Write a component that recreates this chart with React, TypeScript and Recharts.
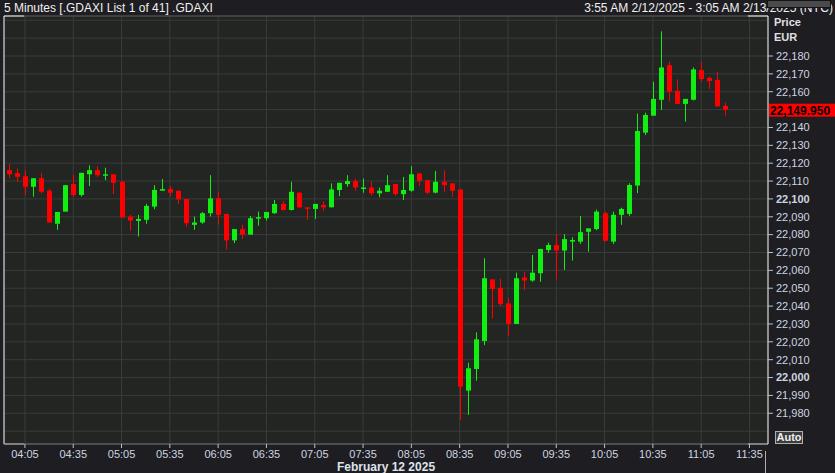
import React from 'react';
import { ComposedChart, Bar, XAxis, YAxis, CartesianGrid, ReferenceLine } from 'recharts';

const START_TIME = '03:55';

const OPEN = [
  22116.1, 22114.4, 22112.7, 22106.8, 22111.6, 22104.6, 22086.1, 22092.9, 22108.3, 22102.2,
  22113.8, 22116.1, 22113.3, 22113.8, 22109.6, 22090.1, 22087.7, 22088.3, 22095.7, 22104.6,
  22105.5, 22104.6, 22100.0, 22085.5, 22086.8, 22092.0, 22100.3, 22091.6, 22076.8, 22083.1,
  22080.0, 22089.0, 22089.2, 22092.0, 22097.2, 22093.8, 22103.5, 22095.3, 22094.4, 22096.6,
  22095.3, 22105.0, 22108.3, 22110.0, 22106.1, 22106.4, 22103.1, 22104.0, 22108.3, 22102.7,
  22104.6, 22114.2, 22110.5, 22103.5, 22109.6, 22108.7, 22105.3, 21992.7, 22004.8, 22020.5,
  22055.0, 22050.1, 22041.5, 22030.0, 22056.0, 22054.3, 22058.4, 22071.4, 22074.2, 22071.1,
  22076.1, 22076.1, 22081.6, 22083.1, 22092.0, 22076.1, 22091.1, 22091.6, 22107.5, 22137.1,
  22146.6, 22155.5, 22174.9, 22160.5, 22153.2, 22155.5, 22172.1, 22167.8, 22166.6, 22152.1,
];
const HIGH = [
  22119.4, 22117.0, 22116.1, 22111.6, 22114.6, 22105.7, 22092.7, 22107.7, 22113.3, 22114.6,
  22118.8, 22118.3, 22117.5, 22113.8, 22110.1, 22091.1, 22091.1, 22097.2, 22107.7, 22111.1,
  22107.2, 22104.6, 22100.0, 22090.1, 22092.7, 22113.3, 22104.0, 22091.6, 22083.1, 22085.5,
  22090.5, 22092.9, 22092.7, 22099.4, 22098.8, 22109.6, 22104.0, 22095.3, 22097.2, 22098.5,
  22108.7, 22109.0, 22113.3, 22111.4, 22111.4, 22109.6, 22106.4, 22113.3, 22108.3, 22112.3,
  22118.3, 22114.6, 22110.5, 22115.7, 22116.1, 22108.7, 22105.3, 22008.3, 22025.3, 22066.8,
  22055.0, 22055.3, 22044.6, 22058.7, 22059.3, 22068.6, 22072.0, 22075.5, 22080.3, 22080.3,
  22078.5, 22090.4, 22083.5, 22094.0, 22092.9, 22092.9, 22095.1, 22108.8, 22147.8, 22148.3,
  22165.6, 22193.8, 22176.8, 22166.9, 22156.0, 22173.6, 22176.8, 22168.4, 22171.2, 22154.0,
];
const LOW = [
  22111.6, 22109.6, 22102.2, 22101.3, 22103.1, 22086.8, 22082.7, 22092.9, 22100.9, 22101.4,
  22107.2, 22112.3, 22110.5, 22102.7, 22089.6, 22082.3, 22079.0, 22086.1, 22094.2, 22104.6,
  22101.3, 22097.2, 22084.4, 22082.7, 22086.1, 22090.1, 22085.5, 22071.6, 22075.3, 22077.6,
  22080.0, 22085.0, 22087.9, 22091.6, 22093.5, 22093.5, 22094.8, 22088.3, 22088.8, 22093.3,
  22095.3, 22101.6, 22106.8, 22104.6, 22103.5, 22101.8, 22100.9, 22104.0, 22101.8, 22099.4,
  22104.0, 22107.2, 22102.7, 22103.1, 22104.0, 22101.3, 21976.3, 21979.1, 21998.3, 22018.2,
  22033.2, 22040.0, 22023.4, 22030.0, 22049.0, 22053.6, 22053.6, 22069.9, 22055.0, 22060.2,
  22065.5, 22074.8, 22070.5, 22082.5, 22076.1, 22074.8, 22085.5, 22090.5, 22103.2, 22135.8,
  22146.6, 22149.8, 22154.5, 22153.2, 22143.3, 22155.1, 22165.6, 22161.6, 22151.8, 22146.6,
];
const CLOSE = [
  22113.8, 22112.4, 22106.8, 22111.6, 22104.0, 22086.8, 22092.7, 22107.7, 22102.2, 22114.6,
  22116.1, 22113.3, 22113.8, 22109.0, 22089.6, 22087.9, 22088.8, 22096.1, 22105.0, 22105.5,
  22103.5, 22099.8, 22086.4, 22086.8, 22092.0, 22100.3, 22091.1, 22076.8, 22083.1, 22080.0,
  22089.2, 22089.8, 22092.7, 22097.2, 22093.8, 22104.0, 22095.3, 22094.6, 22097.2, 22095.3,
  22105.3, 22109.0, 22110.0, 22106.4, 22106.4, 22103.1, 22104.6, 22107.7, 22102.7, 22105.0,
  22113.8, 22110.1, 22103.5, 22109.6, 22107.7, 22104.6, 21994.9, 22005.2, 22021.4, 22055.6,
  22049.6, 22041.1, 22030.0, 22055.6, 22054.3, 22058.7, 22072.0, 22074.2, 22071.1, 22077.5,
  22077.0, 22081.4, 22083.5, 22092.9, 22076.6, 22091.1, 22094.4, 22107.8, 22138.0, 22147.0,
  22156.0, 22173.6, 22160.1, 22153.2, 22156.0, 22172.5, 22167.1, 22166.0, 22151.8, 22149.95,
];

const X_TICK_LABELS = ['04:05', '04:35', '05:05', '05:35', '06:05', '06:35', '07:05', '07:35',
  '08:05', '08:35', '09:05', '09:35', '10:05', '10:35', '11:05', '11:35'];
const Y_TICKS = [21970, 21980, 21990, 22000, 22010, 22020, 22030, 22040, 22050, 22060, 22070,
  22080, 22090, 22100, 22110, 22120, 22130, 22140, 22150, 22160, 22170, 22180, 22190, 22200];
const Y_LABELLED_MIN = 21980;
const Y_LABELLED_MAX = 22180;
const BOLD_TICKS = [22000, 22100];
const LAST_PRICE = 22149.95;
const LAST_PRICE_LABEL = '22,149.950';
const TITLE = '5 Minutes [.GDAXI List 1 of 41] .GDAXI';
const RANGE_TEXT = '3:55 AM 2/12/2025 - 3:05 AM 2/13/2025 (NYC)';
const DATE_LABEL = 'February 12 2025';

const X_DOMAIN: [number, number] = [-0.6, 94.3];
const Y_DOMAIN: [number, number] = [21962.8, 22202.4];

const RED = '#ff0000';
const GREEN = '#11ee11';
const FONT = '"Liberation Sans", Arial, sans-serif';
const AXIS_TEXT = '#cdd6e0';

const toMin = (t: string) => {
  const [h, m] = t.split(':').map(Number);
  return h * 60 + m;
};
const pad = (n: number) => (n < 10 ? '0' + n : '' + n);
const slotOf = (t: string) => (toMin(t) - toMin(START_TIME)) / 5;
const fmtTime = (i: number) => {
  const m = toMin(START_TIME) + 5 * Math.round(i);
  return pad(Math.floor(m / 60)) + ':' + pad(m % 60);
};

const data = OPEN.map((o, i) => ({
  i,
  time: fmtTime(i),
  open: o,
  high: HIGH[i],
  low: LOW[i],
  close: CLOSE[i],
}));

const X_TICKS = X_TICK_LABELS.map(slotOf);

const Candle = (props: any) => {
  const { x, y, width, height, payload } = props;
  if (!payload || x == null || y == null) return null;
  const { open, close, high, low } = payload;
  const top = Math.min(y, y + height);
  const h = Math.abs(height);
  const k = h / (high - low || 1);
  const cx = Math.round(x + width / 2);
  const bTop = top + (high - Math.max(open, close)) * k;
  const bBot = top + (high - Math.min(open, close)) * k;
  const color = close < open ? RED : GREEN;
  return (
    <g>
      <rect x={cx} y={top} width={1} height={Math.max(h, 1)} fill={color} />
      <rect x={cx - 2} y={bTop} width={5} height={Math.max(bBot - bTop, 1.5)} fill={color} />
    </g>
  );
};

const YTick = (props: any) => {
  const { x, y, payload } = props;
  const v = payload.value;
  const show = v >= Y_LABELLED_MIN && v <= Y_LABELLED_MAX && v !== 22150;
  if (!show) return null;
  const bold = BOLD_TICKS.includes(v);
  return (
    <g>
      <line x1={x - 8} x2={x - 3} y1={y} y2={y} stroke="#c0c0c0" />
      <text x={x} y={y} dy="0.35em" textAnchor="start" fontFamily={FONT} fontSize={11}
        fontWeight={bold ? 'bold' : 'normal'} fill={AXIS_TEXT}>
        {v.toLocaleString('en-US')}
      </text>
    </g>
  );
};

const XTick = (props: any) => {
  const { x, y, payload } = props;
  return (
    <g>
      <line x1={x} x2={x} y1={y - 6} y2={y - 2} stroke="#c0c0c0" />
      <text x={x} y={y} dy="0.71em" textAnchor="middle" fontFamily={FONT} fontSize={11} fill={AXIS_TEXT}>
        {fmtTime(payload.value)}
      </text>
    </g>
  );
};

const PriceTag = (props: any) => {
  const vb = props.viewBox || {};
  const y = vb.y;
  const x0 = vb.x + vb.width + 1;
  return (
    <g>
      <rect x={x0} y={y - 6} width={835 - x0} height={13} fill={RED} />
      <text x={x0 + 1} y={y + 0.5} dy="0.36em" fontFamily={FONT} fontSize={12} fontWeight="bold" fill="#000">
        {LAST_PRICE_LABEL}
      </text>
    </g>
  );
};

const WHITE = '#f4f4f4';
const FRAME_GREY = '#707070';

export default function App() {
  const cornerX = 2.5;
  return (
    <div style={{ position: 'fixed', left: 0, top: 0, width: 835, height: 473, background: '#1e1d21', overflow: 'hidden' }}>
      <ComposedChart width={835} height={473} data={data} margin={{ top: 16, right: 0, bottom: 0, left: 4 }}>
        <CartesianGrid fill="#232523" stroke="#3a3b3a" strokeWidth={1} />
        <XAxis dataKey="i" type="number" domain={X_DOMAIN} allowDataOverflow ticks={X_TICKS}
          interval={0} height={29} tickSize={4} tickMargin={2} tickLine={false}
          axisLine={{ stroke: FRAME_GREY }} tick={<XTick />} />
        <YAxis orientation="right" type="number" domain={Y_DOMAIN} allowDataOverflow ticks={Y_TICKS}
          interval={0} width={67} tickSize={5} tickMargin={3} tickLine={false}
          axisLine={{ stroke: WHITE }} tick={<YTick />} />
        <ReferenceLine y={Y_DOMAIN[1]} stroke="#555" ifOverflow="visible" />
        <ReferenceLine x={X_DOMAIN[0]} stroke={WHITE} ifOverflow="visible" />
        <ReferenceLine segment={[{ x: X_DOMAIN[0], y: Y_DOMAIN[1] }, { x: X_DOMAIN[0] + cornerX, y: Y_DOMAIN[1] }]} stroke={WHITE} ifOverflow="visible" />
        <ReferenceLine segment={[{ x: X_DOMAIN[1] - cornerX, y: Y_DOMAIN[1] }, { x: X_DOMAIN[1], y: Y_DOMAIN[1] }]} stroke={WHITE} ifOverflow="visible" />
        <ReferenceLine segment={[{ x: X_DOMAIN[0], y: Y_DOMAIN[0] }, { x: X_DOMAIN[0] + cornerX, y: Y_DOMAIN[0] }]} stroke={WHITE} ifOverflow="visible" />
        <ReferenceLine segment={[{ x: X_DOMAIN[1] - cornerX, y: Y_DOMAIN[0] }, { x: X_DOMAIN[1], y: Y_DOMAIN[0] }]} stroke={WHITE} ifOverflow="visible" />
        <Bar dataKey={(d: any) => [d.low, d.high]} shape={Candle} barSize={6} isAnimationActive={false} />
        <ReferenceLine y={LAST_PRICE} stroke="none" strokeOpacity={0} ifOverflow="visible" label={<PriceTag />} />
      </ComposedChart>

      <div style={{ position: 'absolute', left: 4, top: 0, fontFamily: FONT, fontSize: 12, lineHeight: '16px', color: '#f0f0f0', whiteSpace: 'nowrap' }}>{TITLE}</div>
      <div style={{ position: 'absolute', right: 2, top: 0, fontFamily: FONT, fontSize: 12, lineHeight: '16px', color: '#f0f0f0', whiteSpace: 'nowrap' }}>{RANGE_TEXT}</div>
      <div style={{ position: 'absolute', left: 767, top: 0, width: 62, height: 6, background: '#4a4a4c', border: '1px solid #151515' }} />
      <div style={{ position: 'absolute', left: 774, top: 16, fontFamily: FONT, fontSize: 11, fontWeight: 'bold', lineHeight: '13px', color: '#e0e0e0' }}>Price</div>
      <div style={{ position: 'absolute', left: 774, top: 31, fontFamily: FONT, fontSize: 11, fontWeight: 'bold', lineHeight: '13px', color: '#e0e0e0' }}>EUR</div>
      <div style={{ position: 'absolute', left: 775, top: 431, width: 26, height: 11, border: '1px solid #b0b0b0', background: '#3c3c3e', fontFamily: FONT, fontSize: 11, fontWeight: 'bold', lineHeight: '11px', color: '#f0f0f0', textAlign: 'center' }}>Auto</div>
      <div style={{ position: 'absolute', left: 337, top: 460, fontFamily: FONT, fontSize: 12, fontWeight: 'bold', lineHeight: '14px', color: '#dde3ea', whiteSpace: 'nowrap' }}>{DATE_LABEL}</div>
      <div style={{ position: 'absolute', left: 765, top: 451, width: 1, height: 22, background: '#b0b0b0' }} />
    </div>
  );
}
